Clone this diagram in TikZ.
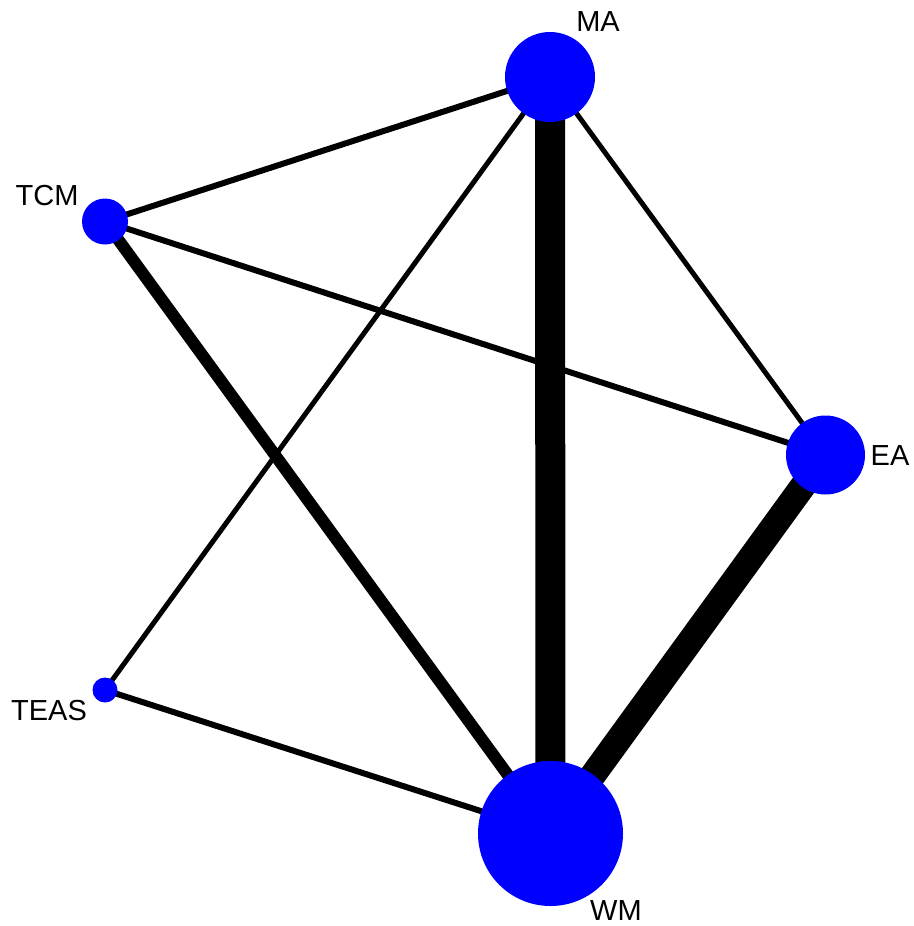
\documentclass[tikz,border=0pt]{standalone}
\usepackage{fontspec}
\setmainfont{Liberation Sans}
\usetikzlibrary{backgrounds}
\begin{document}
\begin{tikzpicture}[x=1pt,y=-1pt,
  trt/.style={circle,fill={rgb,255:red,0;green,0;blue,255},draw=none,inner sep=0pt,minimum size=#1},
  lbl/.style={inner sep=0pt,font=\fontsize{29}{29}\selectfont},
  edge/.style={draw=black,line width=#1}]
\useasboundingbox (0,0) rectangle (913,926);
\node[trt=90pt]  (MA)   at (550,77)  {};
\node[trt=46pt]  (TCM)  at (105,221.5) {};
\node[trt=79pt]  (EA)   at (825.5,455) {};
\node[trt=25pt]  (TEAS) at (105,690) {};
\node[trt=145pt] (WM)   at (550.5,833.5) {};
\node[lbl] (lMA)   at (598,22)  {MA};
\node[lbl] (lTCM)  at (47,196)  {TCM};
\node[lbl] (lEA)   at (890,456) {EA};
\node[lbl] (lTEAS) at (49,711)  {TEAS};
\node[lbl] (lWM)   at (616,911) {WM};
\begin{pgfonlayer}{background}
\draw[edge=6pt]  (MA.center) -- (TCM.center);
\draw[edge=30pt] (MA.center) -- (WM.center);
\draw[edge=5pt]  (MA.center) -- (EA.center);
\draw[edge=5pt]  (MA.center) -- (TEAS.center);
\draw[edge=6pt]  (TCM.center) -- (EA.center);
\draw[edge=12pt] (TCM.center) -- (WM.center);
\draw[edge=26pt] (EA.center) -- (WM.center);
\draw[edge=6pt]  (TEAS.center) -- (WM.center);
\end{pgfonlayer}
\end{tikzpicture}
\end{document}
